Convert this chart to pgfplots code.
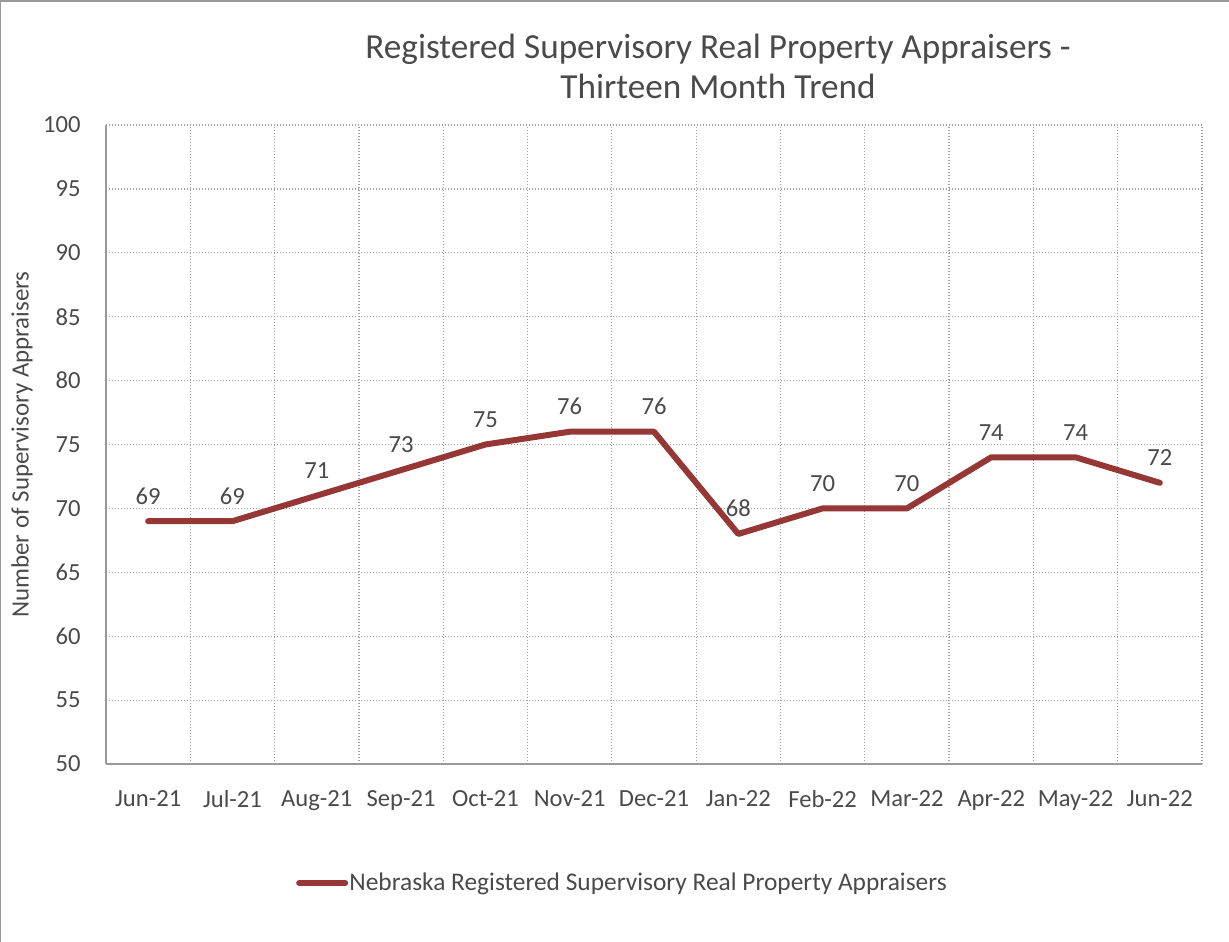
\documentclass[border=0pt]{standalone}
\usepackage{pgfplots}
\pgfplotsset{compat=1.18}
\usepackage{fontspec}
\setmainfont{Carlito}
\definecolor{txt}{HTML}{4A4A4A}
\definecolor{gridc}{HTML}{A0A0A0}
\definecolor{axc}{HTML}{999999}
\definecolor{linec}{HTML}{953735}
\begin{document}
\begin{tikzpicture}
\path[use as bounding box] (-53bp,-89bp) rectangle (561.5bp,382bp);
\draw[axc, line width=1.2bp] (-53bp,-89bp) -- (-53bp,381.4bp) -- (561.5bp,381.4bp);
\begin{axis}[
  at={(0,0)}, anchor=south west,
  scale only axis, width=548bp, height=319.5bp,
  xmin=-0.5, xmax=12.5, ymin=50, ymax=100,
  xtick={0,...,12},
  xticklabels={Jun-21,Jul-21,Aug-21,Sep-21,Oct-21,Nov-21,Dec-21,Jan-22,Feb-22,Mar-22,Apr-22,May-22,Jun-22},
  ytick={50,55,...,100},
  minor xtick={0.5,1.5,...,12.5},
  major tick length=0pt, minor tick length=0pt,
  ymajorgrids=true, xminorgrids=true, xmajorgrids=false,
  major grid style={gridc, line width=0.6bp, dash pattern=on 0.7bp off 0.8bp},
  minor grid style={gridc, line width=0.6bp, dash pattern=on 0.7bp off 0.8bp},
  axis x line*=bottom, axis y line*=left,
  axis line style={-, draw=axc, line width=0.9bp},
  /pgf/number format/assume math mode=true,
  tick label style={font=\fontsize{12.3bp}{14bp}\selectfont, text=txt},
  yticklabel style={anchor=east, inner sep=0pt, xshift=-12.5bp},
  xticklabel style={anchor=north, inner sep=0pt, yshift=-13bp},
  ylabel={Number of Supervisory Appraisers},
  ylabel style={at={(axis description cs:-0.0767,0.5)}, anchor=center, font=\fontsize{12.45bp}{14bp}\selectfont, text=txt},
  title={Registered Supervisory Real Property Appraisers -\\Thirteen Month Trend},
  title style={at={(axis description cs:0.5584,1.073)}, anchor=center, align=center, font=\fontsize{17.6bp}{20bp}\selectfont, text=txt},
  legend style={at={(axis description cs:0.4708,-0.1862)}, anchor=center, draw=none, fill=none, inner sep=0pt,
    font=\fontsize{12.7bp}{14bp}\selectfont, text=txt, nodes={inner sep=0.6bp}},
  legend image code/.code={\draw[#1, line width=3bp, line cap=round] (0bp,0bp) -- (23bp,0bp);},
  nodes near coords,
  every node near coord/.append style={font=\fontsize{12.3bp}{14bp}\selectfont, text=txt, anchor=south, inner sep=0pt, yshift=7bp},
  /pgf/number format/.cd, fixed, precision=0,
]
\addplot[linec, line width=3bp, line cap=round, line join=round, mark=none] coordinates {
(0,69) (1,69) (2,71) (3,73) (4,75) (5,76) (6,76) (7,68) (8,70) (9,70) (10,74) (11,74) (12,72)
};
\addlegendentry{Nebraska Registered Supervisory Real Property Appraisers}
\end{axis}
\end{tikzpicture}
\end{document}
